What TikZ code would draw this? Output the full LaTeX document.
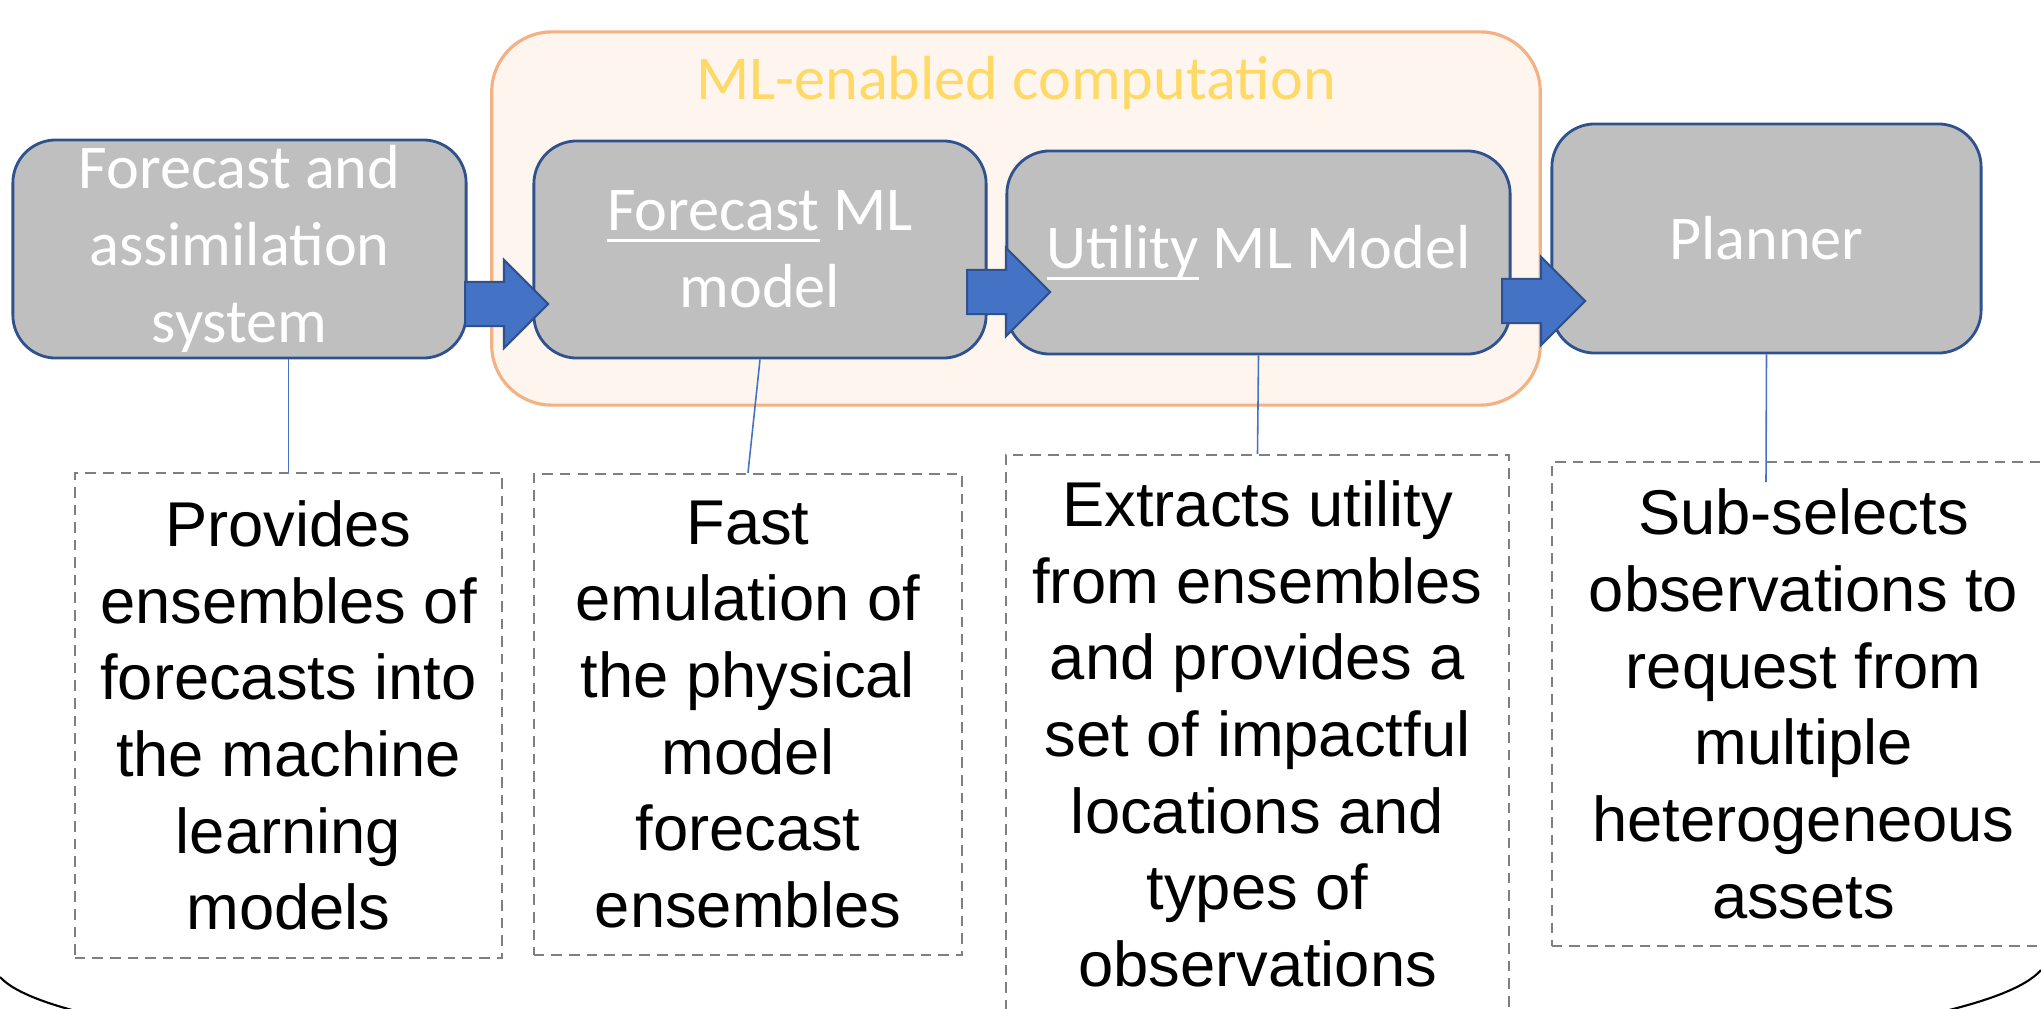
\documentclass[tikz,border=0pt]{standalone}
\usepackage{fontspec}
\usetikzlibrary{shapes.arrows}

\newfontfamily\boxfont{Carlito}
\newfontfamily\notefont{Liberation Sans}

\definecolor{boxgray}{HTML}{BFBFBF}
\definecolor{boxedge}{HTML}{2F528F}
\definecolor{arrblue}{HTML}{4472C4}
\definecolor{grpfill}{HTML}{FEF5EF}
\definecolor{grpedge}{HTML}{F4B183}
\definecolor{grptext}{HTML}{FFD966}
\definecolor{dashgray}{HTML}{7F7F7F}

\newsavebox\ulbox
\newcommand{\ulword}[1]{\sbox\ulbox{#1}\rlap{\rule[-3.3pt]{\wd\ulbox}{0.9pt}}\usebox\ulbox}

\tikzset{
  stage/.style={draw=boxedge, line width=0.8pt, fill=boxgray, rounded corners=0.43cm,
    text=white, align=center, inner sep=0pt,
    font=\boxfont\fontsize{17.7pt}{22pt}\selectfont},
  note/.style={draw=dashgray, dash pattern=on 3pt off 2pt, line width=0.6pt,
    align=center, inner sep=0pt,
    font=\notefont\fontsize{18pt}{21.8pt}\selectfont},
  wire/.style={draw=arrblue, line width=0.45pt},
  blockarr/.style={single arrow, draw=boxedge, fill=arrblue, line width=0.6pt,
    inner xsep=0pt, inner ysep=0.21cm, single arrow head extend=0.22cm,
    single arrow tip angle=90, minimum height=0.83cm, anchor=tail},
  group/.style={draw=grpedge, fill=grpfill, line width=0.9pt, rounded corners=0.6cm}
}

\begin{document}
\begin{tikzpicture}[x=0.01cm, y=-0.01cm]
        \useasboundingbox (0,0) rectangle (2041,1009);
        \clip (0,0) rectangle (2041,1009);

        % ML group in the back
        \node[group, minimum width=10.48cm, minimum height=3.73cm] (mlgroup) at (1016,218.5) {};
        \node[anchor=base, text=grptext, font=\boxfont\fontsize{17.7pt}{22pt}\selectfont] (mltitle) at (1016,100) {ML-enabled computation};

        % pipeline stages
        \node[stage, minimum width=4.53cm, minimum height=2.18cm] (fas) at (239.5,249) {Forecast and\\assimilation\\system};
        \node[stage, minimum width=4.52cm, minimum height=2.17cm] (fcml) at (760,249.5) {\ulword{Forecast} ML\\model};
        \node[stage, minimum width=5.03cm, minimum height=2.03cm] (uml) at (1258.5,252.5) {\ulword{Utility} ML Model};
        \node[stage, minimum width=4.29cm, minimum height=2.29cm] (plan) at (1766.5,238.5) {Planner};

        \node[blockarr] (arr1) at (464,304) {};
        \node[blockarr] (arr2) at (966,292) {};
        \node[blockarr] (arr3) at (1501,301) {};

        % descriptions
        \node[note, minimum width=4.27cm, minimum height=4.85cm] (d1) at (288.5,715.5) {Provides\\ensembles of\\forecasts into\\the machine\\learning\\models};
        \node[note, minimum width=4.28cm, minimum height=4.81cm] (d2) at (748,714.5) {Fast\\emulation of\\the physical\\model\\forecast\\ensembles};
        \node[note, minimum width=5.03cm, minimum height=5.58cm] (d3) at (1257.5,734) {Extracts utility\\from ensembles\\and provides a\\set of impactful\\locations and\\types of\\observations};
        \node[note, minimum width=5.03cm, minimum height=4.84cm] (d4) at (1803.5,704) {Sub-selects\\observations to\\request from\\multiple\\heterogeneous\\assets};

        \coordinate (planend) at (1766,482);
        \draw[wire] (fas.south -| d1.north) -- (d1.north);
        \draw[wire] (fcml.south) -- (d2.north);
        \draw[wire] (uml.south) -- (d3.north);
        \draw[wire] (plan.south) -- (planend);

        % frame edge at the bottom
        \draw[line width=0.6pt] (0,977) .. controls (120,1110) and (1920,1110) .. (2041,970);
\end{tikzpicture}
\end{document}
